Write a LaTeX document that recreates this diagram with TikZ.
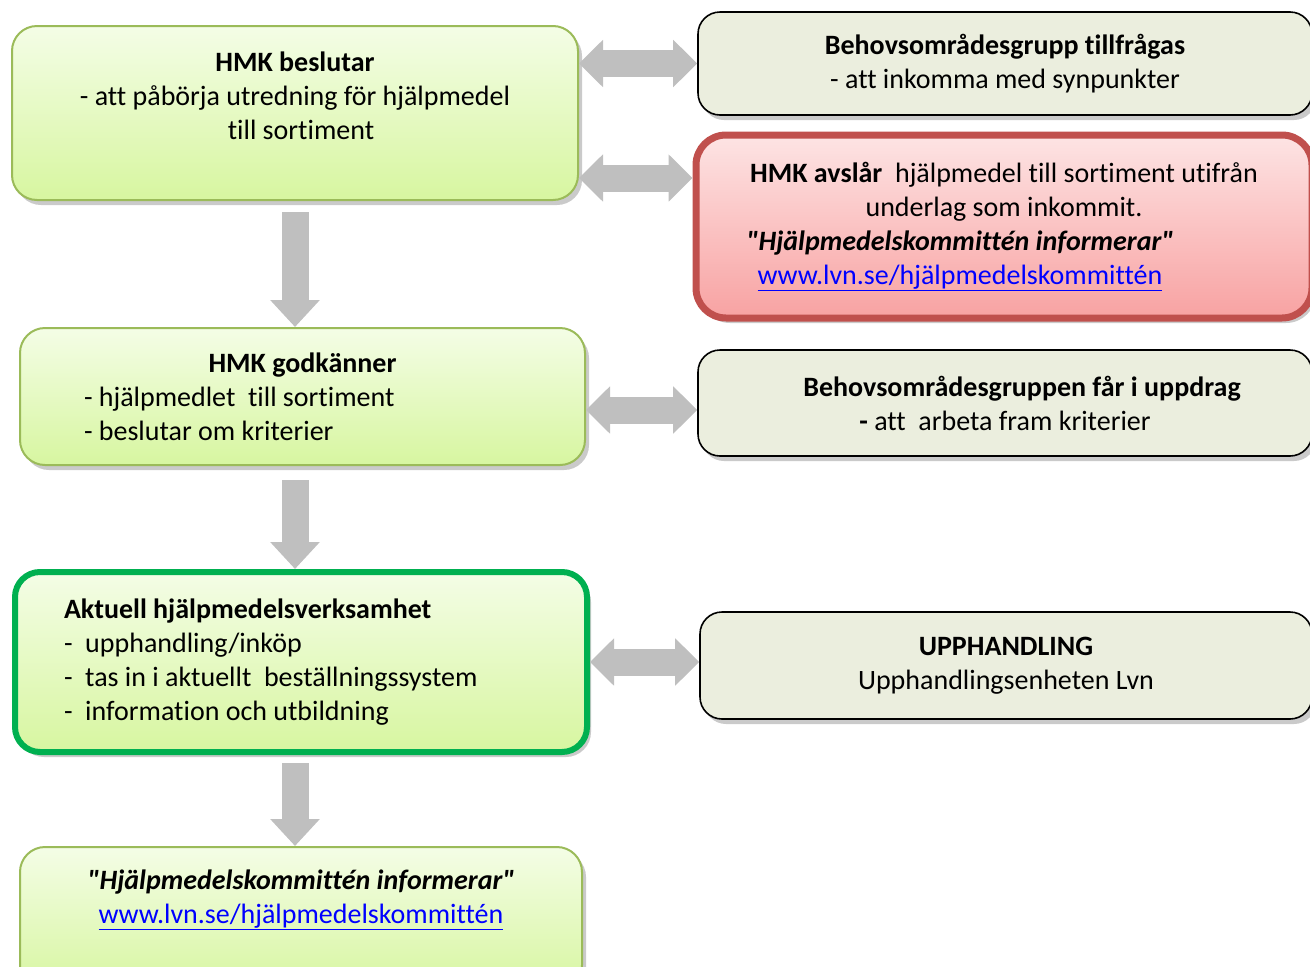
\documentclass[tikz,border=0pt]{standalone}
\usepackage{fontspec}
\setmainfont{Carlito}[Ligatures=NoCommon]
\usetikzlibrary{positioning,shadows,arrows.meta}

\definecolor{greenline}{HTML}{9BBB59}
\definecolor{greentop}{HTML}{F4FDE6}
\definecolor{greenbottom}{HTML}{D7F6A0}
\definecolor{activeline}{HTML}{00B050}
\definecolor{redline}{HTML}{C0504D}
\definecolor{redtop}{HTML}{FDE4E4}
\definecolor{redbottom}{HTML}{F8A2A2}
\definecolor{greyfill}{HTML}{EBEEDE}
\definecolor{arrowgrey}{HTML}{BFBFBF}
\definecolor{linkblue}{HTML}{0000FF}

\newcommand{\hmklink}{\textcolor{linkblue}{\underline{www.lvn.se/hjälpmedelskommittén}}}
\newcommand{\hmkinfo}{\textbf{\textit{\textquotedbl Hjälpmedelskommittén informerar\textquotedbl}}}

\tikzset{
  boxshadow/.style={drop shadow={shadow xshift=4pt, shadow yshift=-5pt, opacity=0.35, fill=black!60}},
  greenbox/.style={draw=greenline, line width=2pt, rounded corners=25pt,
    top color=greentop, bottom color=greenbottom, boxshadow},
  activebox/.style={greenbox, draw=activeline, line width=6pt},
  greybox/.style={draw=black, line width=1.6pt, rounded corners=22pt, fill=greyfill, boxshadow},
  redbox/.style={draw=redline, line width=7pt, rounded corners=30pt,
    top color=redtop, bottom color=redbottom, boxshadow},
  listtext/.style={align=left, execute at begin node={\spaceskip=0pt\xspaceskip=0pt\relax}},
  harrow/.style={draw=arrowgrey, line width=27pt,
    {Triangle[length=24pt,width=46pt]}-{Triangle[length=24pt,width=46pt]}},
  varrow/.style={draw=arrowgrey, line width=27pt, -{Triangle[length=27pt,width=48pt]}}
}

\begin{document}
\begin{tikzpicture}[x=1pt, y=-1pt, font=\fontsize{28}{34}\selectfont]
\clip (0,0) rectangle (1310,967);

% Left column
\node [greenbox, minimum width=566pt, minimum height=174pt] (b1) at (295,113) {};
\node [align=center, below=23pt of b1.north] (b1text)
  {\textbf{HMK beslutar}\\- att påbörja utredning för hjälpmedel\\\hspace*{12pt}till sortiment};

\node [greenbox, listtext, minimum width=565pt, minimum height=137pt, text width=437pt] (b2) at (302.5,396.5)
  {\makebox[437pt]{\textbf{HMK godkänner}}\\- hjälpmedlet\ \ till sortiment\\- beslutar om kriterier};

\node [activebox, listtext, minimum width=572pt, minimum height=180pt, text width=474pt] (b3) at (301,662)
  {\textbf{Aktuell hjälpmedelsverksamhet}\\-\ \ upphandling/inköp\\-\ \ tas in i aktuellt\ \ beställningssystem\\-\ \ information och utbildning};

\node [greenbox, minimum width=562pt, minimum height=143pt] (b4) at (301,918.5) {};
\node [align=center, below=20pt of b4.north] (b4text) {\hmkinfo\\\hmklink};

% Right column
\node [greybox, minimum width=614pt, minimum height=103pt, align=center] (r1) at (1005,63.5)
  {\textbf{Behovsområdesgrupp tillfrågas}\\- att inkomma med synpunkter};

\node [redbox, minimum width=616pt, minimum height=183pt, align=center] (r2) at (1004,226.5)
  {\textbf{HMK avslår}\ \ hjälpmedel till sortiment utifrån\\underlag som inkommit.\\
   \hspace*{-88pt}\hmkinfo\\\hspace*{-88pt}\hmklink};

\node [greybox, minimum width=614pt, minimum height=106pt, align=center] (r3) at (1005,403)
  {\hspace*{34pt}\textbf{Behovsområdesgruppen får i uppdrag}\\\textbf{-} att\ \ arbeta fram kriterier};

\node [greybox, minimum width=612pt, minimum height=107pt, align=center] (r4) at (1006,665.5)
  {\textbf{UPPHANDLING}\\Upphandlingsenheten Lvn};

% Arrows
\coordinate (y2) at (0,178);
\coordinate (y3) at (0,410);

\draw [harrow] (b1.east |- r1.west) -- (r1.west);
\draw [harrow] (b1.east |- y2) -- (r2.west |- y2);
\draw [harrow] (b2.east |- y3) -- (r3.west |- y3);
\draw [harrow] (b3.east) -- (r4.west |- b3.east);

\draw [varrow, shorten <=11pt] (b1.south) -- (b1.south |- b2.north);
\draw [varrow, shorten <=14pt] (b1.south |- b2.south) -- (b1.south |- b3.north);
\draw [varrow, shorten <=8pt] (b1.south |- b3.south) -- (b1.south |- b4.north);
\end{tikzpicture}
\end{document}
